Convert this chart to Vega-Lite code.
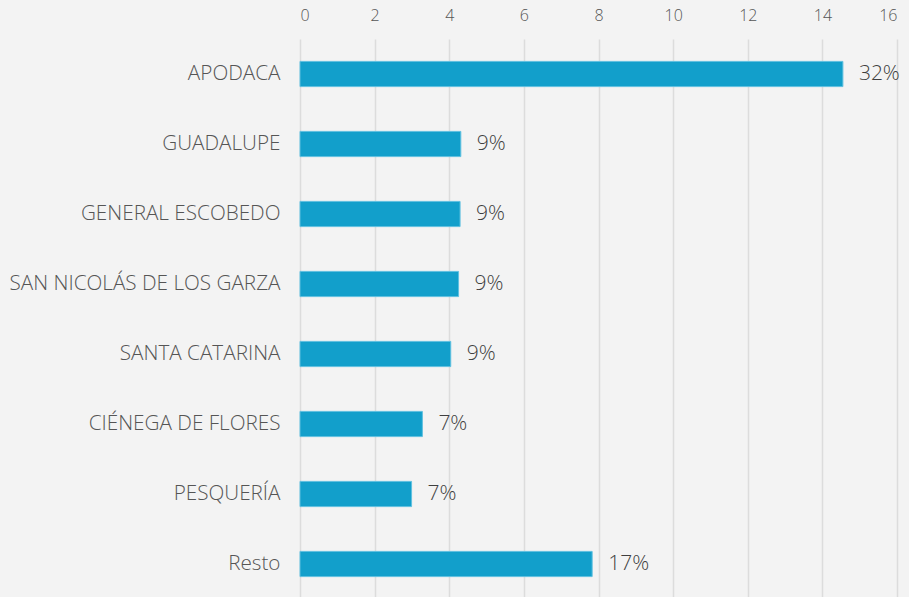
{
  "$schema": "https://vega.github.io/schema/vega-lite/v6.json",
  "width": 597,
  "height": 560,
  "autosize": {"type": "none"},
  "padding": {"left": 300, "top": 39, "right": 12, "bottom": 0},
  "background": "#f3f3f3",
  "config": {
    "view": {"stroke": null},
    "font": "Open Sans"
  },
  "data": {
    "values": [
      {"name": "APODACA", "value": 14.55, "pct": "32%"},
      {"name": "GUADALUPE", "value": 4.31, "pct": "9%"},
      {"name": "GENERAL ESCOBEDO", "value": 4.29, "pct": "9%"},
      {"name": "SAN NICOLÁS DE LOS GARZA", "value": 4.25, "pct": "9%"},
      {"name": "SANTA CATARINA", "value": 4.04, "pct": "9%"},
      {"name": "CIÉNEGA DE FLORES", "value": 3.28, "pct": "7%"},
      {"name": "PESQUERÍA", "value": 2.99, "pct": "7%"},
      {"name": "Resto", "value": 7.83, "pct": "17%"}
    ]
  },
  "encoding": {
    "y": {
      "field": "name",
      "type": "nominal",
      "sort": null,
      "scale": {"paddingInner": 0.64, "paddingOuter": 0.32},
      "axis": {
        "title": null,
        "domain": false,
        "ticks": false,
        "labelPadding": 20,
        "labelLimit": 320,
        "labelFontSize": 20.7,
        "labelFontWeight": 300,
        "labelColor": "#555555",
        "labelFont": "Open Sans"
      }
    },
    "x": {
      "field": "value",
      "type": "quantitative",
      "scale": {"domain": [0, 16], "nice": false},
      "axis": {
        "orient": "top",
        "title": null,
        "domain": false,
        "ticks": false,
        "values": [0, 2, 4, 6, 8, 10, 12, 14, 16],
        "labelPadding": 16,
        "labelFontSize": 16,
        "labelFontWeight": 300,
        "labelColor": "#555555",
        "labelFont": "Open Sans",
        "gridColor": "#dcdcdc",
        "gridWidth": 1.5
      }
    }
  },
  "layer": [
    {
      "mark": {"type": "bar", "color": "#129fcb", "stroke": "#5fc0e0", "strokeWidth": 1}
    },
    {
      "mark": {"type": "text", "align": "left", "baseline": "middle", "dx": 16, "fontSize": 21, "fontWeight": 300, "color": "#3f3f3f", "font": "Open Sans"},
      "encoding": {"text": {"field": "pct"}}
    }
  ]
}
